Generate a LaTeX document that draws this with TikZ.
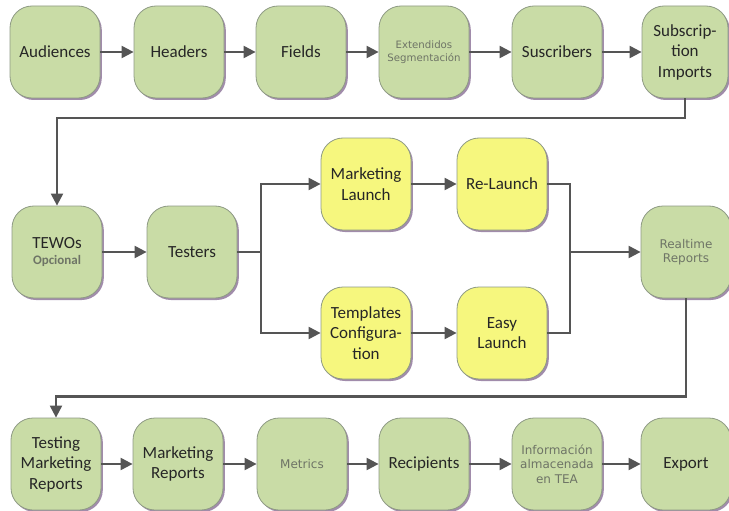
\documentclass[tikz,border=0pt]{standalone}
\usepackage{fontspec}
\setmainfont{Carlito}
\newfontfamily\notefont{DejaVu Sans}
\usetikzlibrary{arrows.meta,shadows}

\definecolor{stepgreen}{HTML}{C9DCA6}
\definecolor{stepyellow}{HTML}{F6F77E}
\definecolor{stepedge}{HTML}{8E9A84}
\definecolor{stepshade}{HTML}{9C86A6}
\definecolor{wire}{HTML}{555555}
\definecolor{notegray}{HTML}{6E7466}

\tikzset{
  stepbox/.style={rectangle, rounded corners=22pt, draw=stepedge, line width=0.8pt,
    fill=stepgreen, minimum width=90pt, minimum height=92pt, inner sep=2pt,
    align=center, text=black!85, font=\fontsize{17}{20.5}\selectfont,
    drop shadow={shadow xshift=1.8pt, shadow yshift=-2pt, fill=stepshade, opacity=0.95}},
  launchbox/.style={stepbox, fill=stepyellow},
  notetext/.style={font=\notefont\fontsize{12}{14.5}\selectfont, text=notegray},
  flow/.style={draw=wire, line width=2.2pt, -{Triangle[length=12pt,width=12pt]}},
  wireline/.style={draw=wire, line width=2.2pt}
}

\begin{document}
\begin{tikzpicture}[x=1pt,y=-1pt]
  \useasboundingbox (0,0) rectangle (729,511);
  % first row
  \node[stepbox] (aud) at (55,52) {Audiences};
  \node[stepbox] (hdr) at (179,52) {Headers};
  \node[stepbox] (fld) at (301,52) {Fields};
  \node[stepbox, notetext, font=\notefont\fontsize{10.2}{12.5}\selectfont] (ext) at (424,52) {Extendidos\\Segmentación};
  \node[stepbox] (sus) at (557,52) {Suscribers};
  \node[stepbox, minimum width=86pt] (sub) at (685,52) {Subscrip-\\tion\\Imports};
  \draw[flow] (aud) -- (hdr);
  \draw[flow] (hdr) -- (fld);
  \draw[flow] (fld) -- (ext);
  \draw[flow] (ext) -- (sus);
  \draw[flow] (sus) -- (sub);

  % middle row with the two launch paths
  \node[stepbox] (tewo) at (57,252) {TEWOs\\[-4pt]{\fontsize{13}{14}\selectfont\bfseries\color{notegray}Opcional}};
  \node[stepbox] (test) at (192,252) {Testers};
  \node[launchbox] (mkt) at (366,184) {Marketing\\Launch};
  \node[launchbox] (tpl) at (366,333) {Templates\\Configura-\\tion};
  \node[launchbox] (rel) at (502,184) {Re-Launch};
  \node[launchbox] (easy) at (502,333) {Easy\\Launch};
  \node[stepbox, notetext] (rt) at (686,252) {Realtime\\Reports};
  \coordinate (split) at (261,252);
  \coordinate (merge) at (570,252);
  \draw[flow] (sub.south) -- ++(0,20) -| (tewo.north);
  \draw[flow] (tewo) -- (test);
  \draw[wireline] (test.east) -- (split);
  \draw[flow] (split) |- (mkt.west);
  \draw[flow] (split) |- (tpl.west);
  \draw[flow] (mkt) -- (rel);
  \draw[flow] (tpl) -- (easy);
  \draw[wireline] (rel.east) -| (merge);
  \draw[wireline] (easy.east) -| (merge);
  \draw[flow] (merge) -- (rt.west);

  % last row
  \node[stepbox] (tmr) at (56,464) {Testing\\Marketing\\Reports};
  \node[stepbox] (mrep) at (178,464) {Marketing\\Reports};
  \node[stepbox, notetext] (met) at (302,464) {Metrics};
  \node[stepbox] (rec) at (424,464) {Recipients};
  \node[stepbox, notetext] (info) at (557,464) {Información\\almacenada\\en TEA};
  \node[stepbox] (exp) at (686,464) {Export};
  \draw[flow] (rt.south) -- ++(0,98) -| (tmr.north);
  \draw[flow] (tmr) -- (mrep);
  \draw[flow] (mrep) -- (met);
  \draw[flow] (met) -- (rec);
  \draw[flow] (rec) -- (info);
  \draw[flow] (info) -- (exp);
\end{tikzpicture}
\end{document}
